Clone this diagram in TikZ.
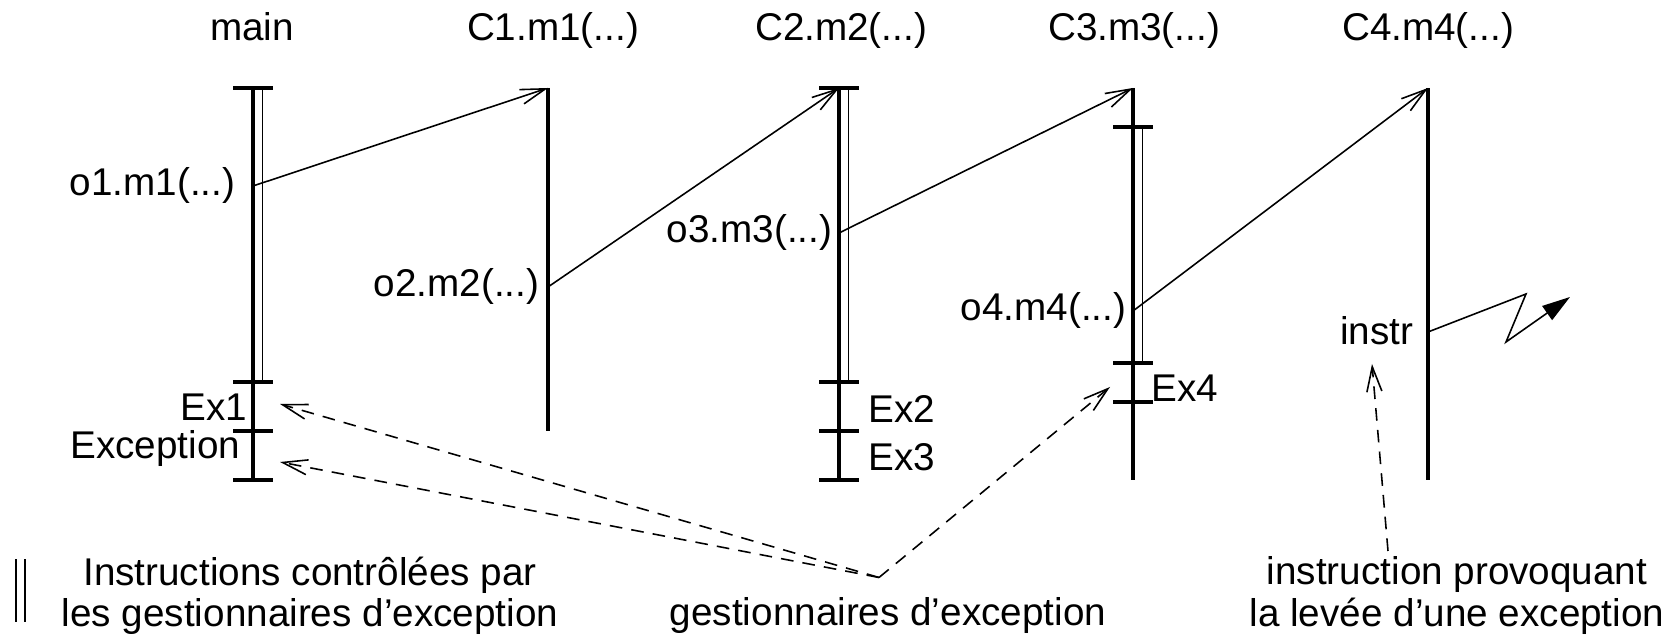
\documentclass[tikz,border=0pt]{standalone}
\usepackage{fontspec}
\setmainfont{Liberation Sans}
\usepackage{tikz}
\usetikzlibrary{positioning, arrows.meta}

\begin{document}
\begin{tikzpicture}[
      font=\fontsize{11}{11.7}\selectfont,
      life/.style={line width=0.95pt},
      guard/.style={line width=0.4pt},
      call/.style={line width=0.45pt,
                   -{Straight Barb[length=2.5mm, width=1.5mm]}},
      handler/.style={line width=0.45pt, dash pattern=on 3.6pt off 2.6pt,
                      -{Straight Barb[length=2.5mm, width=1.5mm]}},
      lbl/.style={inner sep=0pt}
    ]
    \useasboundingbox (0,0) rectangle (16.77,6.36);

    %--- method names ---
    \node[lbl, anchor=base] (tmain) at (2.52,5.95) {main};
    \node[lbl, anchor=base] (tm1) at (5.53,5.95) {C1.m1(...)};
    \node[lbl, anchor=base] (tm2) at (8.41,5.95) {C2.m2(...)};
    \node[lbl, anchor=base] (tm3) at (11.34,5.95) {C3.m3(...)};
    \node[lbl, anchor=base] (tm4) at (14.28,5.95) {C4.m4(...)};

    %--- lifelines ---
    \foreach \n/\x/\b in {main/2.53/1.56, c1/5.48/2.05, c2/8.39/1.56,
                          c3/11.33/1.56, c4/14.28/1.56} {
      \coordinate (\n-top) at (\x,5.48);
      \draw[life] (\n-top) -- (\x,\b);
    }
    % bounds of the handler blocks
    \foreach \x/\y in {2.53/5.48, 2.53/2.54, 2.53/2.05, 2.53/1.56,
                       8.39/5.48, 8.39/2.54, 8.39/2.05, 8.39/1.56,
                       11.33/5.09, 11.33/2.73, 11.33/2.34} {
      \draw[life] (\x-0.2,\y) -- (\x+0.2,\y);
    }
    % guarded instructions
    \foreach \x/\a/\b in {2.53/5.48/2.54, 8.39/5.48/2.54, 11.33/5.09/2.73} {
      \draw[guard] (\x+0.095,\a) -- (\x+0.095,\b);
    }

    %--- calls ---
    \coordinate (o1) at (2.53,4.50);
    \coordinate (o2) at (5.48,3.49);
    \coordinate (o3) at (8.39,4.03);
    \coordinate (o4) at (11.33,3.25);
    \coordinate (in) at (14.28,3.04);
    \node[lbl, anchor=east] (lo1) at (2.36,4.50) {o1.m1(...)};
    \node[lbl, anchor=east] (lo2) at (5.40,3.49) {o2.m2(...)};
    \node[lbl, anchor=east] (lo3) at (8.33,4.03) {o3.m3(...)};
    \node[lbl, anchor=east] (lo4) at (11.27,3.25) {o4.m4(...)};
    \node[lbl, anchor=east] (linstr) at (14.14,3.05) {instr};
    \draw[call] (o1) -- (c1-top);
    \draw[call] (o2) -- (c2-top);
    \draw[call] (o3) -- (c3-top);
    \draw[call] (o4) -- (c4-top);

    % raised exception
    \coordinate (z1) at (15.26,3.42);
    \coordinate (z2) at (15.06,2.94);
    \coordinate (z3) at (15.70,3.39);
    \draw[line width=0.45pt, -{Triangle[length=2.8mm, width=1.7mm]}]
          (in) -- (z1) -- (z2) -- (z3);

    %--- handlers ---
    \node[lbl, anchor=east] (ex1) at (2.48,2.285) {Ex1};
    \node[lbl, anchor=east] (exc) at (2.41,1.87) {Exception};
    \node[lbl, anchor=west] (ex2) at (8.68,2.27) {Ex2};
    \node[lbl, anchor=west] (ex3) at (8.68,1.79) {Ex3};
    \node[lbl, anchor=west] (ex4) at (11.51,2.48) {Ex4};

    %--- legend ---
    \draw[line width=0.6pt] (0.16,0.14) -- (0.16,0.77);
    \draw[guard] (0.25,0.14) -- (0.25,0.77);
    \node[lbl, align=center] (legA) at (3.10,0.405)
          {Instructions contrôlées par\\les gestionnaires d'exception};
    \node[lbl] (legB) at (8.88,0.20) {gestionnaires d'exception};
    \node[lbl, align=center] (legC) at (14.57,0.405)
          {instruction provoquant\\la levée d'une exception};

    \coordinate (gest) at (8.79,0.585);
    \coordinate (h1) at (2.80,2.32);
    \coordinate (h2) at (2.80,1.74);
    \coordinate (h4) at (11.10,2.49);
    \foreach \h in {h1,h2,h4} {
      \draw[handler] (gest) -- (\h);
    }
    \coordinate (raise) at (13.88,0.85);
    \coordinate (hi) at (13.72,2.72);
    \draw[handler] (raise) -- (hi);
  \end{tikzpicture}
\end{document}
